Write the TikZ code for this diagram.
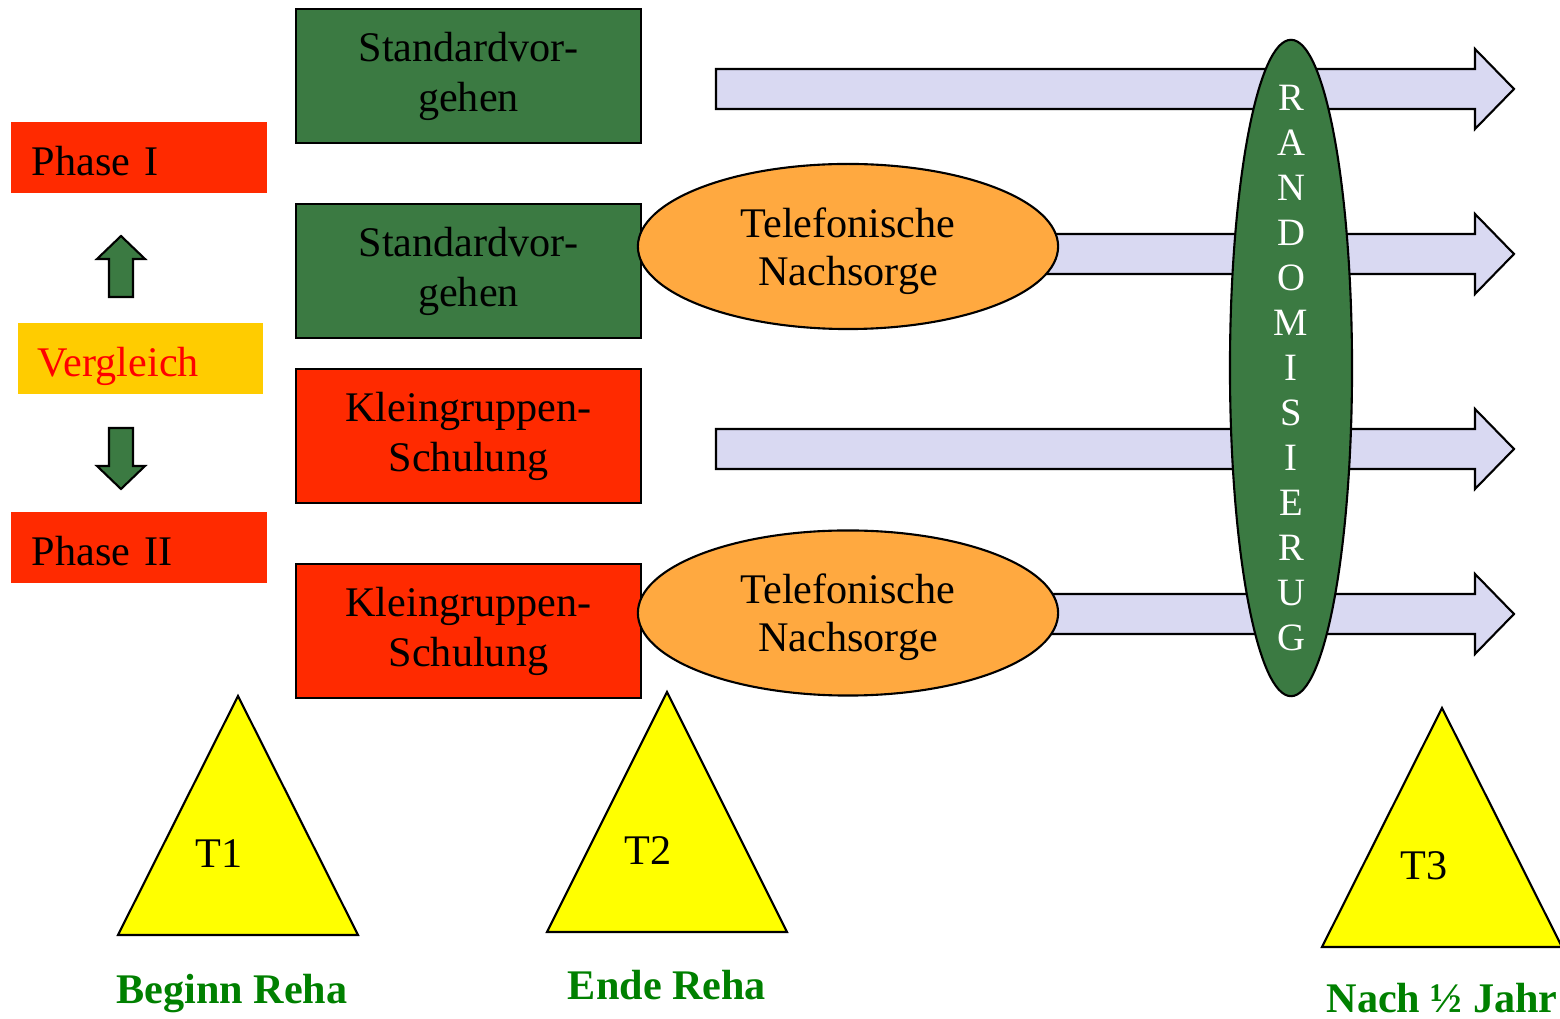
\documentclass[tikz,border=0pt]{standalone}
\usepackage{fontspec}
\setmainfont{Liberation Serif}
\usetikzlibrary{shapes.geometric}
\definecolor{phasered}{RGB}{255,42,0}
\definecolor{boxgreen}{RGB}{59,122,66}
\definecolor{vglgelb}{RGB}{255,204,0}
\definecolor{nachorange}{RGB}{255,169,64}
\definecolor{pfeil}{RGB}{217,217,242}
\definecolor{messgelb}{RGB}{255,255,0}
\definecolor{zeitgruen}{RGB}{0,128,0}
\begin{document}
\begin{tikzpicture}[x=0.01cm,y=-0.01cm,semithick,font=\fontsize{12}{14.2}\selectfont,
    phase/.style={fill=phasered,minimum width=2.56cm,minimum height=0.71cm,text width=2.14cm,inner xsep=0.21cm,
        text height=10pt,text depth=0pt,align=left},
    gruppe/.style={draw,minimum width=3.45cm,minimum height=1.34cm,align=center},
    nachsorge/.style={ellipse,draw,fill=nachorange,minimum width=4.2cm,minimum height=1.65cm,inner sep=0pt,
        text depth=0pt,font=\fontsize{12}{13.6}\selectfont,align=center},
    blockpfeil/.style={draw,fill=pfeil},
    messpunkt/.style={draw,fill=messgelb},
    zeit/.style={text=zeitgruen,font=\fontsize{12}{14}\selectfont\bfseries,anchor=base}]
    \useasboundingbox(0,0)rectangle(1560,1019);
    % Pfeile nach rechts
    \foreach \ya/\xa in {89/716,254/1000,449/716,614/1000}
        \draw[blockpfeil](\xa,\ya-20)--(1475,\ya-20)--(1475,\ya-40)--(1514,\ya)
        --(1475,\ya+40)--(1475,\ya+20)--(\xa,\ya+20)--cycle;
    % linke Spalte
    \node[phase](p1)at(139,157.5){Phase I};
    \node[phase,fill=vglgelb,text=red,minimum width=2.45cm,text width=2.05cm,inner xsep=0.2cm](vgl)at(140.5,358.5){Vergleich};
    \node[phase](p2)at(139,547.5){Phase II};
    \draw[fill=boxgreen](109,297)--(109,259)--(97,259)--(121,236)--(145,259)--(133,259)--(133,297)--cycle;
    \draw[fill=boxgreen](109,428)--(133,428)--(133,466)--(145,466)--(121,489)--(97,466)--(109,466)--cycle;
    % Gruppen
    \node[gruppe,fill=boxgreen](g1)at(468.5,76){Standardvor-\\gehen};
    \node[gruppe,fill=boxgreen](g2)at(468.5,271){Standardvor-\\gehen};
    \node[gruppe,fill=phasered](g3)at(468.5,436){Kleingruppen-\\Schulung};
    \node[gruppe,fill=phasered](g4)at(468.5,631){Kleingruppen-\\Schulung};
    \node[nachsorge](n2)at(848,246.5){Telefonische\\Nachsorge};
    \node[nachsorge](n4)at(848,613){Telefonische\\Nachsorge};
    \node[ellipse,draw,fill=boxgreen,minimum width=1.22cm,minimum height=6.56cm,inner sep=0pt](rand)at(1291,368){};
    \node[text=white,font=\fontsize{11}{12.8}\selectfont,align=center](randtext)at(rand)
        {R\\A\\N\\D\\O\\M\\I\\S\\I\\E\\R\\U\\G};
    % Messzeitpunkte
    \draw[messpunkt](238,696)--(358,935)--(118,935)--cycle;
    \draw[messpunkt](667,692)--(787,932)--(547,932)--cycle;
    \draw[messpunkt](1442,708)--(1562,947)--(1322,947)--cycle;
    \node(t1)at(219,854){T1};
    \node(t2)at(648,851){T2};
    \node(t3)at(1424,866){T3};
    \node[zeit](z1)at(232,1004){Beginn Reha};
    \node[zeit](z2)at(667,1000){Ende Reha};
    \node[zeit](z3)at(1442,1013){Nach ½ Jahr};
\end{tikzpicture}
\end{document}
